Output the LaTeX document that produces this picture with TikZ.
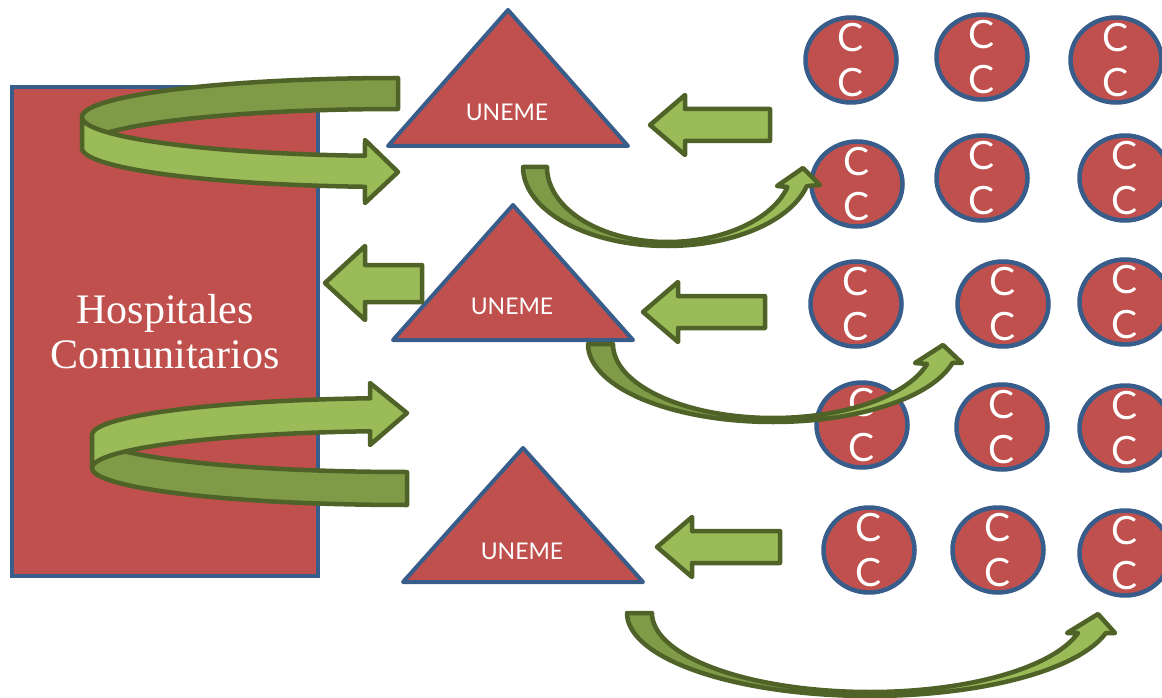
\documentclass[tikz,border=0pt]{standalone}
\usepackage{fontspec}
\setmainfont{Liberation Serif}
\newfontfamily\unemefont{Lato}
\usepackage{tikz}
\usetikzlibrary{shapes.geometric}
\definecolor{hospred}{HTML}{C0504D}
\definecolor{hospblue}{HTML}{385D8A}
\definecolor{arrowlight}{HTML}{9BBB59}
\definecolor{arrowdark}{HTML}{7F9B48}
\definecolor{arrowline}{HTML}{4F6228}
\tikzstyle{hospnode}=[draw=hospblue, fill=hospred, line width=4pt, shape=rectangle, text=white, align=center, inner sep=0pt, font=\fontsize{42}{45}\selectfont]
\tikzstyle{unemetri}=[draw=hospblue, fill=hospred, line width=4pt, line join=round]
\tikzstyle{unemetext}=[text=white, inner sep=0pt, font=\unemefont\fontsize{23}{27}\selectfont]
\tikzstyle{cctext}=[text=white, inner sep=0pt, align=center, font=\unemefont\fontsize{39}{45}\selectfont]
\tikzstyle{ccnode}=[draw=hospblue, fill=hospred, line width=4.5pt, shape=ellipse, inner sep=0pt, minimum width=91pt, minimum height=85pt, label={[cctext]center:{C\\C}}]
\tikzstyle{lightarrow}=[draw=arrowline, fill=arrowlight, line width=4.5pt, line join=round]
\tikzstyle{darkarrow}=[draw=arrowline, fill=arrowdark, line width=4.5pt, line join=round]

\begin{document}
\begin{tikzpicture}[x=1pt, y=-1pt, samples=60, variable=\t]
\useasboundingbox (0,0) rectangle (1162,698);

\node [hospnode, minimum width=306pt, minimum height=489pt] (hosp) at (165,331.5) {Hospitales\\Comunitarios};

% vueltas alrededor del hospital
\draw[darkarrow] plot[domain=270:180] ({398+316*cos(\t)},{117+39*sin(\t)}) -- plot[domain=180:270] ({398+316*cos(\t)},{148+39*sin(\t)}) -- cycle;
\draw[lightarrow] plot[domain=180:96] ({398+316*cos(\t)},{117+39*sin(\t)}) -- (365,140) -- (398,172) -- (365,203) -- plot[domain=96:180] ({398+316*cos(\t)},{148+39*sin(\t)}) -- cycle;
\draw[darkarrow] plot[domain=180:90] ({407+315*cos(\t)},{435+37*sin(\t)}) -- plot[domain=90:180] ({407+315*cos(\t)},{468+37*sin(\t)}) -- cycle;
\draw[lightarrow] plot[domain=180:263.3] ({407+315*cos(\t)},{435+37*sin(\t)}) -- (370,383) -- (407,413) -- (370,445) -- plot[domain=263.3:180] ({407+315*cos(\t)},{468+37*sin(\t)}) -- cycle;

% UNEME
\draw[unemetri] (388,146) -- (508,10) -- (628,146) -- cycle;
\node[unemetext] (uneme1) at (507,112) {UNEME};
\draw[unemetri] (393,340) -- (513,205) -- (633,340) -- cycle;
\node[unemetext] (uneme2) at (512,306) {UNEME};
\draw[unemetri] (403,582) -- (523,448) -- (643,582) -- cycle;
\node[unemetext] (uneme3) at (522,551) {UNEME};

% flechas rectas
\draw[lightarrow] (770,109) -- (685,109) -- (685,95) -- (650,125) -- (685,155) -- (685,141) -- (770,141) -- cycle;
\draw[lightarrow] (765,296) -- (678,296) -- (678,282) -- (643,312) -- (678,342) -- (678,328) -- (765,328) -- cycle;
\draw[lightarrow] (780,531) -- (692,531) -- (692,517) -- (657,547) -- (692,577) -- (692,563) -- (780,563) -- cycle;
\draw[lightarrow] (422,265) -- (365,265) -- (365,246) -- (325,283) -- (365,320) -- (365,302) -- (422,302) -- cycle;

% centros de salud
\node[ccnode] (cc11) at (851,60) {};
\node[ccnode] (cc12) at (982,57) {};
\node[ccnode] (cc13) at (1116,60) {};
\node[ccnode] (cc21) at (857,184) {};
\node[ccnode] (cc22) at (982,178) {};
\node[ccnode] (cc23) at (1125,178) {};
\node[ccnode] (cc31) at (856,304) {};
\node[ccnode] (cc32) at (1003,304) {};
\node[ccnode] (cc33) at (1125,302) {};
\node[ccnode] (cc41) at (862,425) {};
\node[ccnode] (cc42) at (1002,427) {};
\node[ccnode] (cc43) at (1125,428) {};
\node[ccnode] (cc51) at (869,550) {};
\node[ccnode] (cc52) at (998,550) {};
\node[ccnode] (cc53) at (1125,553) {};

% flechas curvas hacia los centros
\draw[darkarrow] plot[domain=180:90] ({667+144*cos(\t)},{167+79*sin(\t)}) -- plot[domain=90:180] ({667+120*cos(\t)},{167+75*sin(\t)}) -- cycle;
\draw[lightarrow] plot[domain=90:14] ({667+144*cos(\t)},{167+79*sin(\t)}) -- (820,185) -- (803,168) -- (777,186) -- plot[domain=15.5:90] ({667+125*cos(\t)},{167+75*sin(\t)}) -- cycle;
\draw[darkarrow] plot[domain=180:90] ({773+185*cos(\t)},{344+78*sin(\t)}) -- plot[domain=90:180] ({773+160*cos(\t)},{344+74*sin(\t)}) -- cycle;
\draw[lightarrow] plot[domain=90:14] ({773+185*cos(\t)},{344+78*sin(\t)}) -- (962,363) -- (943,345) -- (915,363) -- plot[domain=15.7:90] ({773+160*cos(\t)},{344+74*sin(\t)}) -- cycle;
\draw[darkarrow] plot[domain=180:90] ({870+243*cos(\t)},{613+83*sin(\t)}) -- plot[domain=90:180] ({870+218*cos(\t)},{613+79*sin(\t)}) -- cycle;
\draw[lightarrow] plot[domain=90:14] ({870+243*cos(\t)},{613+83*sin(\t)}) -- (1115,633) -- (1098,614) -- (1067,633) -- plot[domain=14.7:90] ({870+215*cos(\t)},{613+79*sin(\t)}) -- cycle;
\end{tikzpicture}
\end{document}
